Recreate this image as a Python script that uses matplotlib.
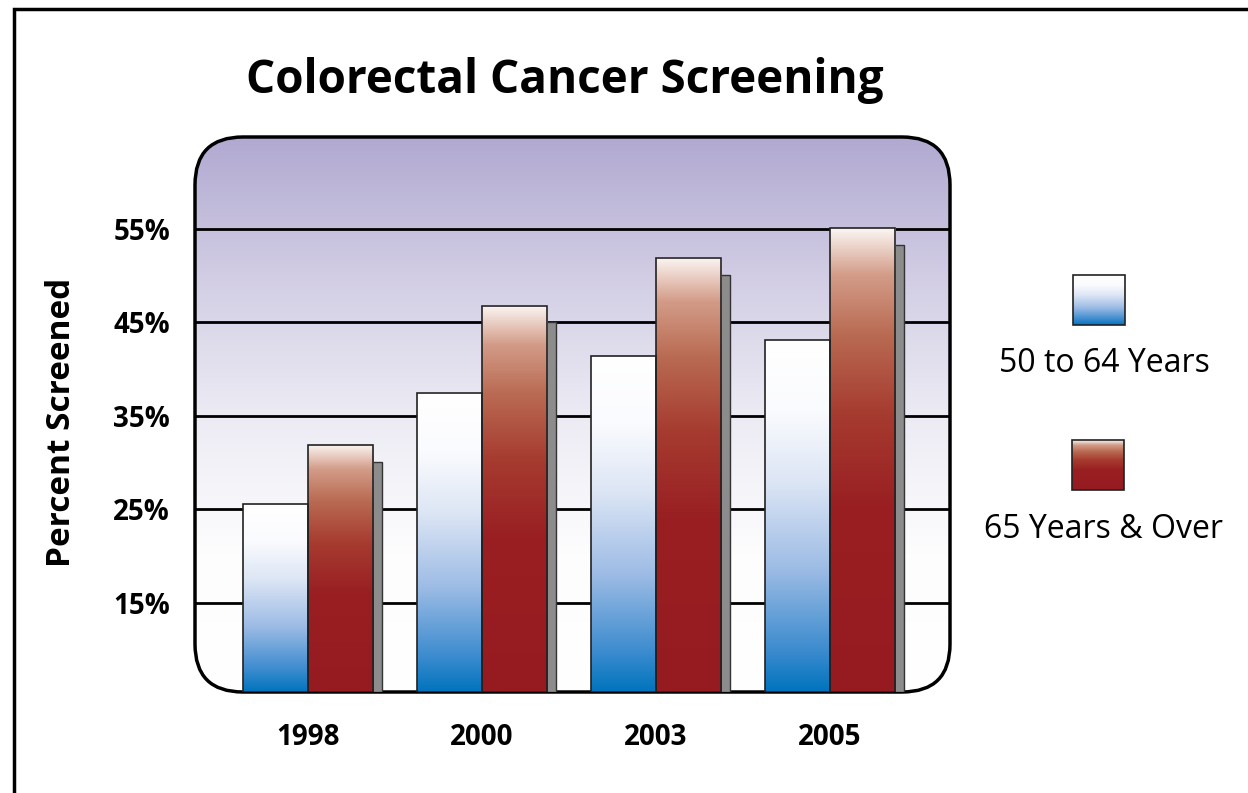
import numpy as np
import matplotlib.pyplot as plt
from matplotlib.colors import LinearSegmentedColormap
from matplotlib.patches import FancyBboxPatch, Rectangle

plt.rcParams['font.family'] = ['Open Sans', 'DejaVu Sans']

# Data
years = ['1998', '2000', '2003', '2005']
age_50_64 = [25.6, 37.5, 41.4, 43.1]
age_65_over = [31.9, 46.8, 51.9, 55.1]
yticks = [15, 25, 35, 45, 55]
legend_labels = ['50 to 64 Years', '65 Years & Over']

# Gradients (bottom -> top)
blue_cmap = LinearSegmentedColormap.from_list('blue', [
    (0.0, '#0074bd'), (0.12, '#3d8ccf'), (0.35, '#9dbce5'),
    (0.6, '#dde6f5'), (0.8, '#fafbfe'), (1.0, '#ffffff')])
red_cmap = LinearSegmentedColormap.from_list('red', [
    (0.0, '#961b21'), (0.4, '#991f22'), (0.6, '#a63b30'),
    (0.77, '#b96a52'), (0.9, '#d39c88'), (1.0, '#fbf5f2')])
bg_cmap = LinearSegmentedColormap.from_list('bg', [
    (0.0, '#ffffff'), (0.25, '#fdfdfe'), (0.5, '#ecebf4'),
    (0.75, '#d2cde4'), (1.0, '#b1a9d1')])

W, H = 1248, 793
fig = plt.figure(figsize=(W / 100, H / 100), dpi=100)

# background layer in pixel units
bg = fig.add_axes([0, 0, 1, 1])
bg.set_xlim(0, W)
bg.set_ylim(0, H)
bg.axis('off')

# outer frame (left and top only)
bg.plot([14, 14, W + 20], [-20, H - 9, H - 9], color='black', lw=2.5,
        solid_joinstyle='miter', clip_on=False)

# plot panel position (pixels)
L, R, B, T = 195, 950, 101, 656
grad = np.linspace(0, 1, 256)[::-1].reshape(-1, 1)
im = bg.imshow(grad, cmap=bg_cmap, extent=[L, R, B, T], aspect='auto', zorder=1)
clip = FancyBboxPatch((L, B), R - L, T - B, boxstyle='round,pad=0,rounding_size=48',
                      facecolor='none', edgecolor='none')
bg.add_patch(clip)
im.set_clip_path(clip)
bg.add_patch(FancyBboxPatch((L, B), R - L, T - B, boxstyle='round,pad=0,rounding_size=48',
                            facecolor='none', edgecolor='black', lw=2.5, zorder=5))

# main axes
ax = fig.add_axes([L / W, B / H, (R - L) / W, (T - B) / H])
ax.patch.set_alpha(0)
ymin, ymax = 5.48, 64.84
x = np.arange(len(years))
width = 0.374
shadow_dx, shadow_dy = 0.052, 1.8

for yv in yticks:
    ax.axhline(yv, color='black', lw=2, zorder=1)


def grad_bar(xl, top, cmap):
    g = np.linspace(0, 1, 256)[::-1].reshape(-1, 1)
    ax.imshow(g, cmap=cmap, extent=[xl, xl + width, ymin, top], aspect='auto', zorder=3)
    ax.add_patch(Rectangle((xl, ymin), width, top - ymin, facecolor='none',
                           edgecolor='#222222', lw=1.2, zorder=4))


for i in range(len(years)):
    # shadow behind the red bar
    ax.add_patch(Rectangle((x[i] + shadow_dx, ymin), width, age_65_over[i] - shadow_dy - ymin,
                           facecolor='#8c8c8c', edgecolor='#333333', lw=1, zorder=2))
    grad_bar(x[i] - width, age_50_64[i], blue_cmap)
    grad_bar(x[i], age_65_over[i], red_cmap)

ax.set_xlim(-0.649, 3.69)
ax.set_ylim(ymin, ymax)
for s in ax.spines.values():
    s.set_visible(False)
ax.set_yticks(yticks)
ax.set_yticklabels([f'{v}%' for v in yticks], fontsize=20, fontweight='bold')
ax.set_xticks(x)
ax.set_xticklabels(years, fontsize=20, fontweight='bold')
ax.tick_params(axis='y', length=0, pad=18)
ax.tick_params(axis='x', length=0, pad=22)

fig.text(62 / W, 1 - 422 / H, 'Percent Screened', fontsize=24, fontweight='bold',
         rotation=90, ha='center', va='center')
fig.text(565 / W, 1 - 80 / H, 'Colorectal Cancer Screening', fontsize=33,
         fontweight='bold', ha='center', va='center')

# legend
for (sx, sy), cmap, label, ty in [((1073, 468), blue_cmap, legend_labels[0], 429),
                                   ((1072, 303), red_cmap, legend_labels[1], 264)]:
    g = np.linspace(0, 1, 256)[::-1].reshape(-1, 1)
    bg.imshow(g, cmap=cmap, extent=[sx, sx + 52, sy, sy + 50], aspect='auto', zorder=2)
    bg.add_patch(Rectangle((sx, sy), 52, 50, facecolor='none', edgecolor='#222222',
                           lw=1.2, zorder=3))
    bg.text(1104, ty, label, fontsize=23, ha='center', va='center')

bg.set_xlim(0, W)
bg.set_ylim(0, H)

fig.savefig('out.png', dpi=100)
